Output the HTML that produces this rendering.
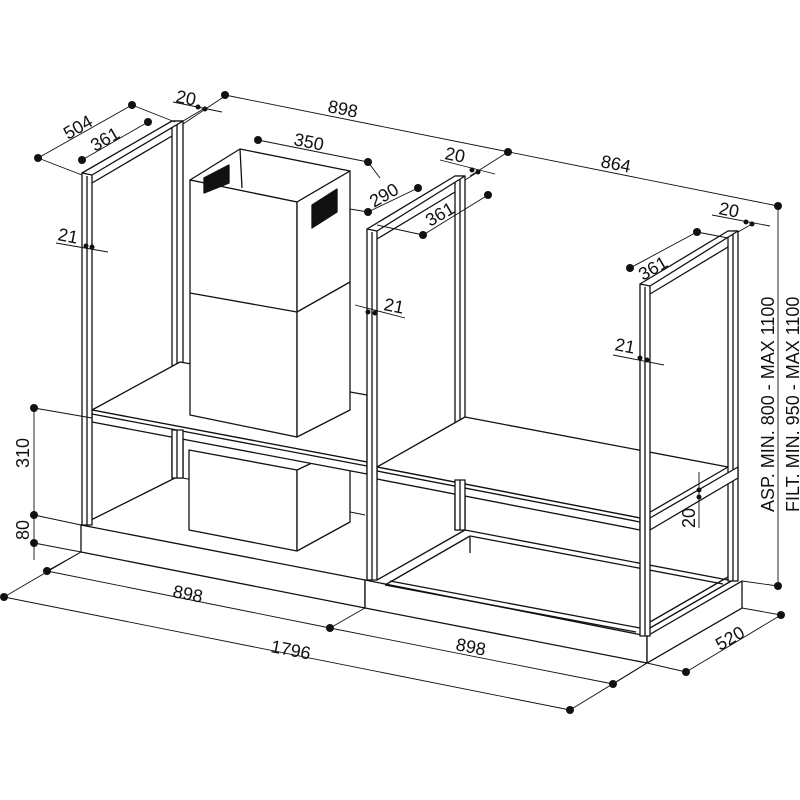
<!DOCTYPE html>
<html><head><meta charset="utf-8"><style>
html,body{margin:0;padding:0;background:#fff;}
svg{display:block;}
text{font-family:"Liberation Sans",sans-serif;font-size:18px;fill:#111;}
</style></head><body>
<svg width="800" height="800" viewBox="0 0 800 800" xmlns="http://www.w3.org/2000/svg">
<g stroke="#111" fill="none" stroke-width="1.3" stroke-linejoin="round">
<!-- Base slabs -->
<polygon points="81,525 365,580 365,608 81,552" fill="#fff"/>
<polygon points="365,580 647,636 647,663 365,608" fill="#fff"/>
<polygon points="647,636 742,581 742,608 647,663" fill="#fff"/>
<line x1="81" y1="525" x2="175" y2="478"/>
<line x1="183" y1="478" x2="365" y2="515" stroke-width="1"/>
<!-- Right base inner frame -->
<line x1="377" y1="580" x2="465" y2="530"/>
<line x1="385" y1="585" x2="470" y2="536"/>
<line x1="465" y1="530" x2="728" y2="580"/>
<line x1="470" y1="536" x2="723" y2="584"/>
<line x1="385" y1="585" x2="636" y2="632"/>
<line x1="390" y1="581" x2="640" y2="628"/>
<line x1="650" y1="628" x2="733" y2="580"/>
<line x1="650" y1="622" x2="728" y2="577"/>
<line x1="470" y1="537" x2="470" y2="553"/>

<!-- Left back post -->
<rect x="172" y="121" width="11" height="357" fill="#fff"/>
<line x1="177" y1="124" x2="177" y2="478"/>
<!-- Hood lower (behind shelf) -->
<polygon points="189,450 297,470 297,551 189,530" fill="#fff"/>
<polygon points="297,470 350,445 350,522 297,551" fill="#fff"/>
<!-- left shelf -->
<polygon points="92,410 180,362 367,395 367,462" fill="#fff"/>
<polygon points="92,410 367,462 367,474 92,422" fill="#fff"/>
<line x1="92" y1="414" x2="367" y2="466"/>
<rect x="172" y="430" width="11" height="48" fill="#fff"/>
<line x1="177" y1="430" x2="177" y2="478"/>

<!-- Hood upper (in front of shelf) -->
<polygon points="190,180 240,149 350,171 297,202" fill="#fff"/>
<polygon points="190,180 297,202 297,437 190,415" fill="#fff"/>
<polygon points="297,202 350,171 350,410 297,437" fill="#fff"/>
<line x1="190" y1="293" x2="297" y2="312"/>
<line x1="297" y1="312" x2="350" y2="282"/>
<line x1="240" y1="149" x2="242" y2="188"/>
<polygon points="204,178 229,165 229,183 204,193" fill="#111"/>
<polygon points="312,205 337,189 337,212 312,228" fill="#111"/>

<!-- Left front post & top bar -->
<rect x="82" y="173" width="10" height="352" fill="#fff"/>
<line x1="87" y1="176" x2="87" y2="525"/>
<polygon points="82,173 172,121 183,121 92,175" fill="#fff"/>
<line x1="92" y1="183" x2="172" y2="136"/>

<!-- Middle frame -->
<rect x="455" y="176" width="10" height="354" fill="#fff"/>
<line x1="460" y1="179" x2="460" y2="530"/>
<polygon points="377,467 465,417 728,467 640,518" fill="#fff"/>
<polygon points="377,467 640,518 640,530 377,479" fill="#fff"/>
<line x1="377" y1="471" x2="640" y2="522"/>
<rect x="455" y="480" width="10" height="50" fill="#fff"/>
<line x1="460" y1="480" x2="460" y2="530"/>
<rect x="367" y="229" width="10" height="351" fill="#fff"/>
<line x1="372" y1="232" x2="372" y2="580"/>
<polygon points="367,229 455,176 465,176 377,231" fill="#fff"/>
<line x1="377" y1="239" x2="455" y2="192"/>

<!-- Right frame -->
<rect x="728" y="231" width="10" height="350" fill="#fff"/>
<line x1="733" y1="234" x2="733" y2="581"/>
<polygon points="650,518 738,467 738,478 650,530" fill="#fff"/>
<rect x="640" y="284" width="10" height="352" fill="#fff"/>
<line x1="645" y1="287" x2="645" y2="636"/>
<polygon points="640,284 728,231 738,231 650,286" fill="#fff"/>
<line x1="650" y1="294" x2="728" y2="247"/>
</g>

<g stroke="#111" stroke-width="0.9" fill="none">
<line x1="38" y1="158" x2="82" y2="175"/><line x1="38" y1="158" x2="132" y2="105"/><line x1="132" y1="105" x2="175" y2="122"/>
<line x1="82" y1="160" x2="148" y2="122"/>
<line x1="173" y1="102" x2="222" y2="112"/><line x1="178" y1="124" x2="205" y2="108"/><line x1="183" y1="124" x2="225" y2="96"/>
<line x1="225" y1="95" x2="778" y2="206"/>
<line x1="508" y1="152" x2="470" y2="176"/>
<line x1="258" y1="140" x2="368" y2="162"/><line x1="368" y1="162" x2="380" y2="178"/>
<line x1="368" y1="212" x2="418" y2="188"/><line x1="350" y1="209" x2="368" y2="212"/>
<line x1="440" y1="160" x2="495" y2="174"/><line x1="465" y1="180" x2="478" y2="172"/>
<line x1="423" y1="235" x2="488" y2="195"/><line x1="377" y1="225" x2="423" y2="235"/>
<line x1="712" y1="215" x2="770" y2="226"/><line x1="738" y1="232" x2="752" y2="224"/>
<line x1="630" y1="268" x2="697" y2="232"/><line x1="697" y1="232" x2="728" y2="238"/>
<line x1="56" y1="243" x2="108" y2="252"/>
<line x1="355" y1="305" x2="405" y2="318"/>
<line x1="613" y1="355" x2="664" y2="365"/>
<line x1="699" y1="472" x2="699" y2="528"/>
<line x1="778" y1="206" x2="778" y2="586"/><line x1="742" y1="581" x2="778" y2="586"/>
<line x1="742" y1="608" x2="781" y2="615"/><line x1="781" y1="615" x2="686" y2="672"/><line x1="647" y1="663" x2="686" y2="672"/>
<line x1="34" y1="408" x2="34" y2="560"/><line x1="34" y1="408" x2="92" y2="418"/>
<line x1="34" y1="515" x2="81" y2="525"/><line x1="34" y1="543" x2="81" y2="552"/>
<line x1="47" y1="571" x2="330" y2="628"/><line x1="47" y1="571" x2="81" y2="552"/>
<line x1="4" y1="597" x2="570" y2="710"/><line x1="4" y1="597" x2="81" y2="552"/>
<line x1="330" y1="628" x2="365" y2="608"/><line x1="330" y1="628" x2="613" y2="684"/>
<line x1="613" y1="684" x2="647" y2="663"/><line x1="570" y1="710" x2="647" y2="663"/>
</g>
<g fill="#111">
<circle cx="38" cy="158" r="4"/><circle cx="132" cy="105" r="4"/><circle cx="82" cy="160" r="4"/><circle cx="148" cy="122" r="4"/>
<circle cx="198" cy="107" r="2.5"/><circle cx="205" cy="109" r="2.5"/><circle cx="225" cy="95" r="4"/>
<circle cx="508" cy="152" r="4"/><circle cx="778" cy="206" r="4"/>
<circle cx="258" cy="140" r="4"/><circle cx="368" cy="162" r="4"/>
<circle cx="368" cy="212" r="4"/><circle cx="418" cy="188" r="4"/>
<circle cx="472" cy="170" r="2.5"/><circle cx="478" cy="172" r="2.5"/>
<circle cx="423" cy="235" r="4"/><circle cx="488" cy="195" r="4"/>
<circle cx="746" cy="222" r="2.5"/><circle cx="752" cy="224" r="2.5"/>
<circle cx="630" cy="268" r="4"/><circle cx="697" cy="232" r="4"/>
<circle cx="86" cy="246" r="2.5"/><circle cx="92" cy="247" r="2.5"/>
<circle cx="368" cy="312" r="2.5"/><circle cx="375" cy="313" r="2.5"/>
<circle cx="640" cy="358" r="2.5"/><circle cx="647" cy="360" r="2.5"/>
<circle cx="699" cy="490" r="2.5"/><circle cx="699" cy="497" r="2.5"/>
<circle cx="778" cy="586" r="4"/><circle cx="781" cy="615" r="4"/><circle cx="686" cy="672" r="4"/>
<circle cx="34" cy="408" r="4"/><circle cx="34" cy="515" r="4"/><circle cx="34" cy="543" r="4"/>
<circle cx="47" cy="571" r="4"/><circle cx="330" cy="628" r="4"/><circle cx="4" cy="597" r="4"/>
<circle cx="570" cy="710" r="4"/><circle cx="613" cy="684" r="4"/>
</g>
<g>
<text transform="translate(68,140) rotate(-30)">504</text>
<text transform="translate(95,152) rotate(-30)">361</text>
<text transform="translate(175,102) rotate(11)">20</text>
<text transform="translate(327,112) rotate(11)">898</text>
<text transform="translate(600,167) rotate(11)">864</text>
<text transform="translate(293,145) rotate(11)">350</text>
<text transform="translate(374,208) rotate(-30)">290</text>
<text transform="translate(444,159) rotate(11)">20</text>
<text transform="translate(430,227) rotate(-30)">361</text>
<text transform="translate(718,214) rotate(11)">20</text>
<text transform="translate(643,281) rotate(-30)">361</text>
<text transform="translate(57,240) rotate(11)">21</text>
<text transform="translate(383,310) rotate(11)">21</text>
<text transform="translate(614,350) rotate(11)">21</text>
<text transform="translate(695,528) rotate(-90)">20</text>
<text transform="translate(29,468) rotate(-90)">310</text>
<text transform="translate(29,540) rotate(-90)">80</text>
<text transform="translate(172,597) rotate(11)">898</text>
<text transform="translate(270,652) rotate(11)">1796</text>
<text transform="translate(455,650) rotate(11)">898</text>
<text transform="translate(720,651) rotate(-30)">520</text>
<text transform="translate(774,512) rotate(-90)">ASP. MIN. 800 - MAX 1100</text>
<text transform="translate(799,512) rotate(-90)">FILT. MIN. 950 - MAX 1100</text>
</g>
</svg>
</body></html>
